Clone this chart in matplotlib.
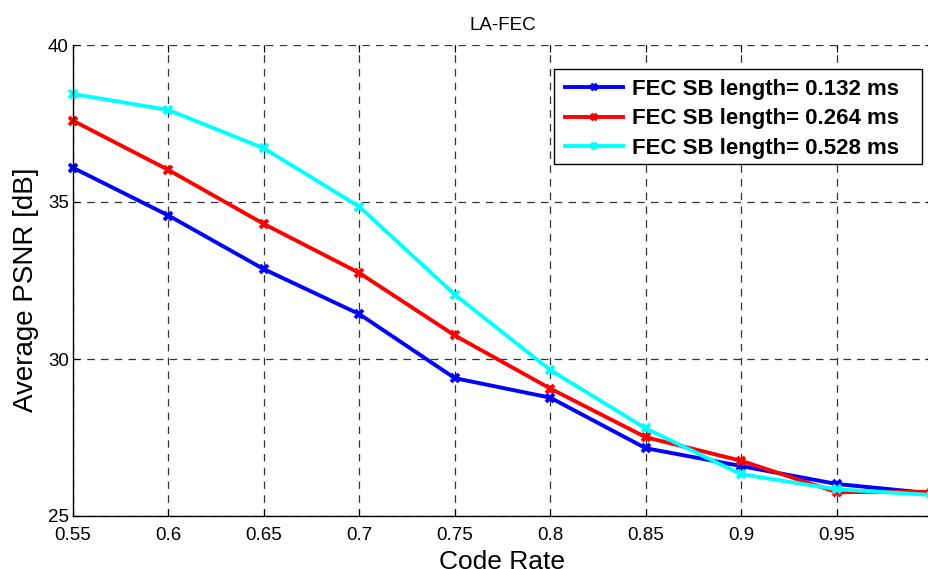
import matplotlib
matplotlib.use("Agg")
import matplotlib.pyplot as plt
from matplotlib.patches import Rectangle

plt.rcParams['font.family'] = ['Liberation Sans', 'DejaVu Sans']

code_rate = [0.55, 0.6, 0.65, 0.7, 0.75, 0.8, 0.85, 0.9, 0.95, 1.0]
psnr_0132 = [36.09, 34.57, 32.86, 31.43, 29.39, 28.77, 27.16, 26.59, 26.02, 25.72]
psnr_0264 = [37.59, 36.02, 34.30, 32.74, 30.75, 29.06, 27.51, 26.76, 25.76, 25.77]
psnr_0528 = [38.44, 37.93, 36.71, 34.85, 32.05, 29.65, 27.79, 26.33, 25.85, 25.67]
labels = ['FEC SB length= 0.132 ms', 'FEC SB length= 0.264 ms', 'FEC SB length= 0.528 ms']
colors = ['#0000ff', '#ff0000', '#00ffff']
xticks = [0.55, 0.6, 0.65, 0.7, 0.75, 0.8, 0.85, 0.9, 0.95, 1.0]
xticklabels = ['0.55', '0.6', '0.65', '0.7', '0.75', '0.8', '0.85', '0.9', '0.95', '1']
yticks = [25, 30, 35, 40]

W, H = 929, 569
fig = plt.figure(figsize=(W/100, H/100), dpi=100)
L, R, T, B = 73, 932, 45, 516
ax = fig.add_axes([L/W, 1 - B/H, (R-L)/W, (B-T)/H])

for y, lab, c in zip([psnr_0132, psnr_0264, psnr_0528], labels, colors):
    ax.plot(code_rate, y, color=c, lw=2.8, marker='x', markersize=6, mew=2.8, label=lab, clip_on=False)

ax.set_xlim(0.55, 1.0)
ax.set_ylim(25, 40)
ax.set_xticks(xticks)
ax.set_xticklabels(xticklabels)
ax.set_yticks(yticks)
ax.tick_params(direction='in', top=True, right=True, labelsize=13.5, length=5, width=0.8, pad=3)
ax.tick_params(axis='x', pad=8)
ax.grid(True, color='0.2', linestyle=(0, (6, 5)), lw=0.9)
ax.spines['top'].set_visible(False)
for s in ['left', 'bottom', 'right']:
    ax.spines[s].set_linewidth(1.0)

ax.set_xlabel('Code Rate', fontsize=19, labelpad=4)
ax.set_ylabel('Average PSNR [dB]', fontsize=20)
ax.yaxis.set_label_coords(-0.04, 0.48)
ax.set_title('LA-FEC', fontsize=13.5, pad=11)

# legend frame drawn separately in figure pixels
ax.add_patch(Rectangle((554/W, 1 - 164/H), (922-554)/W, (164-69)/H, transform=fig.transFigure,
                       facecolor='white', edgecolor='black', lw=1.0, zorder=4, clip_on=False))
leg = ax.legend(loc='upper left', bbox_to_anchor=(565/W, 1 - 79/H), bbox_transform=fig.transFigure,
                prop={'weight': 'bold', 'size': 16}, frameon=False,
                borderaxespad=0, borderpad=0, handlelength=2.6, handletextpad=0.4, labelspacing=0.38,
                markerscale=0.8)
leg.set_zorder(5)

fig.savefig('out.png', dpi=100)
